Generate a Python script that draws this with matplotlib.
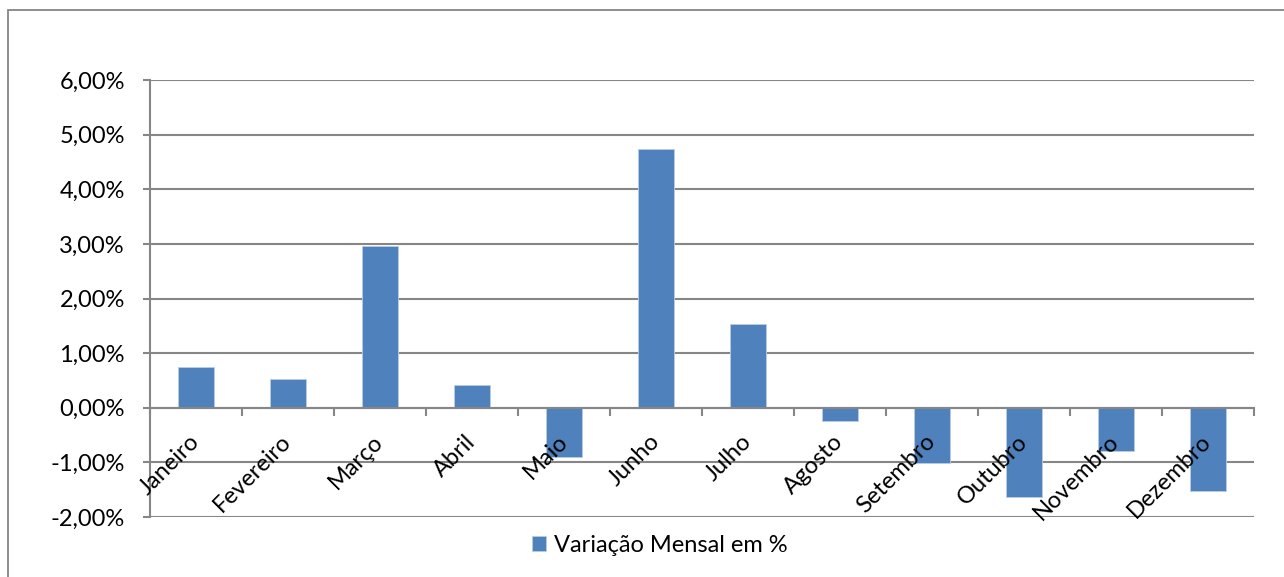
import matplotlib
matplotlib.use("Agg")
import matplotlib.pyplot as plt
from matplotlib.patches import Rectangle
from matplotlib.ticker import FuncFormatter, FixedLocator
import numpy as np

meses = ["Janeiro", "Fevereiro", "Março", "Abril", "Maio", "Junho", "Julho",
         "Agosto", "Setembro", "Outubro", "Novembro", "Dezembro"]
variacao = [0.74, 0.53, 2.96, 0.41, -0.90, 4.74, 1.54, -0.24, -1.02, -1.64, -0.79, -1.53]
serie_nome = "Variação Mensal em %"
y_ticks = [-2, -1, 0, 1, 2, 3, 4, 5, 6]

plt.rcParams['font.family'] = ['Lato', 'DejaVu Sans']
grid_col = "#868686"
bar_col = "#4F81BD"
FS = 17

W, H = 1284, 577
fig = plt.figure(figsize=(W / 100, H / 100), dpi=100)
fig.patches.append(Rectangle((8 / W, 0 - 0.01), 1.02, 1 - 10 / H + 0.01,
                             transform=fig.transFigure, fill=False,
                             edgecolor=grid_col, linewidth=1.3))

ax = fig.add_axes([150 / W, 1 - 517 / H, (1254 - 150) / W, (517 - 80) / H])
x = np.arange(len(meses))
ax.bar(x, variacao, width=0.4, color=bar_col, edgecolor="#B9CDE5", linewidth=0.6,
       zorder=3, label=serie_nome)

ax.set_xlim(-0.5, len(meses) - 0.5)
ax.set_ylim(y_ticks[0], y_ticks[-1])
ax.set_yticks(y_ticks)
ax.yaxis.set_major_formatter(FuncFormatter(lambda v, p: f"{v:.2f}%".replace(".", ",")))
ax.grid(axis="y", color=grid_col, linewidth=1.5, zorder=0)
ax.set_axisbelow(True)
ax.xaxis.set_zorder(5)

for s in ["top", "right"]:
    ax.spines[s].set_visible(False)
ax.spines["left"].set_color(grid_col)
ax.spines["left"].set_linewidth(1.5)
ax.spines["bottom"].set_position(("data", 0))
ax.spines["bottom"].set_color(grid_col)
ax.spines["bottom"].set_linewidth(1.5)
ax.spines["bottom"].set_zorder(4)

ax.tick_params(axis="y", direction="out", length=5, width=1.5, color=grid_col,
               labelsize=FS, pad=13, labelcolor="black")
ax.set_xticks(x)
ax.set_xticklabels(meses, rotation=45, ha="right", va="center",
                   rotation_mode="anchor", fontsize=FS)
ax.tick_params(axis="x", which="major", length=0, pad=22)
ax.xaxis.set_minor_locator(FixedLocator(np.arange(-0.5, len(meses), 1.0)))
ax.tick_params(axis="x", which="minor", direction="out", length=6, width=1.5,
               color=grid_col)

leg = fig.legend(loc="center", bbox_to_anchor=(660 / W, 1 - 545 / H), frameon=False,
                 fontsize=FS, handlelength=0.6, handleheight=0.6, handletextpad=0.35)

fig.savefig("out.png", dpi=100)
